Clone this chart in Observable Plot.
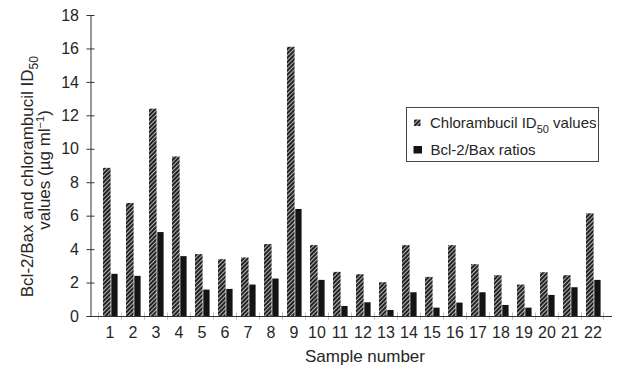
<!DOCTYPE html>
<html><head><meta charset="utf-8">
<script src="https://cdn.jsdelivr.net/npm/d3@7"></script>
<script src="https://cdn.jsdelivr.net/npm/@observablehq/plot@0.6"></script>
<style>body{margin:0;background:#fff}</style>
</head><body><div id="chart"></div>
<script>
const samples = [1,2,3,4,5,6,7,8,9,10,11,12,13,14,15,16,17,18,19,20,21,22];
const chlorambucilID50 = [8.86, 6.76, 12.4, 9.54, 3.7, 3.4, 3.5, 4.3, 16.1, 4.24, 2.64, 2.5, 2.02, 4.24, 2.34, 4.24, 3.1, 2.44, 1.88, 2.62, 2.44, 6.14];
const bclBaxRatios = [2.52, 2.4, 5.02, 3.58, 1.58, 1.62, 1.88, 2.24, 6.4, 2.16, 0.6, 0.82, 0.36, 1.42, 0.5, 0.8, 1.42, 0.66, 0.5, 1.26, 1.72, 2.16];
const yTicks = [0, 2, 4, 6, 8, 10, 12, 14, 16, 18];
const seriesNames = ["Chlorambucil ID", "Bcl-2/Bax ratios"];
const xTitle = "Sample number";

const rows = samples.map((s, i) => ({sample: s, id50: chlorambucilID50[i], ratio: bclBaxRatios[i]}));

const W = 619, H = 366, mL = 90.5, mR = 7, mT = 15, mB = 50;
const bw = (W - mL - mR) / samples.length;
const ink = "#262626";

const plot = Plot.plot({
  width: W, height: H,
  marginLeft: mL, marginRight: mR, marginTop: mT, marginBottom: mB,
  style: {fontFamily: "'Liberation Sans', Arial, sans-serif", fontSize: "16px", color: ink, background: "#fff", overflow: "visible"},
  x: {type: "band", domain: samples, padding: 0, label: null},
  y: {domain: [0, 18], label: null},
  marks: [
    Plot.barY(rows, {x: "sample", y: "id50", fill: "url(#hatch)", insetLeft: 5, insetRight: bw - 13.3}),
    Plot.barY(rows, {x: "sample", y: "ratio", fill: "#141414", insetLeft: 13.3, insetRight: bw - 20.3}),
    Plot.frame({anchor: "left", stroke: "#333"}),
    Plot.ruleY(yTicks, {y: d => d, insetLeft: -4, insetRight: W - mL - mR - 4, stroke: "#333"}),
    Plot.ruleY([0], {insetLeft: -4, stroke: "#333"}),
    Plot.barY(samples, {x: d => d, y1: -0.22, y2: 0.22, insetRight: bw - 1, fill: "#333"}),
    Plot.barY([samples[samples.length - 1]], {x: d => d, y1: -0.22, y2: 0.22, insetLeft: bw - 1, fill: "#333"}),
    Plot.axisY(yTicks, {tickSize: 0, tickPadding: 12, label: null}),
    Plot.axisX({tickSize: 0, tickPadding: 10, label: null})
  ]
});
document.getElementById("chart").appendChild(plot);

const svg = d3.select(plot);
const defs = svg.insert("defs", ":first-child");
const pat = defs.append("pattern").attr("id", "hatch").attr("patternUnits", "userSpaceOnUse")
  .attr("width", 3).attr("height", 3).attr("patternTransform", "rotate(45)");
pat.append("rect").attr("width", 3).attr("height", 3).attr("fill", "#b4b4b4");
pat.append("line").attr("x1", 1).attr("y1", 0).attr("x2", 1).attr("y2", 3).attr("stroke", "#222").attr("stroke-width", 2);

// y-axis title (two lines)
const t1 = svg.append("text").attr("transform", "translate(33,176.7) rotate(-90)")
  .attr("text-anchor", "middle").attr("fill", ink).style("font-size", "17px");
t1.append("tspan").text("Bcl-2/Bax and chlorambucil ID");
t1.append("tspan").attr("dy", 5).style("font-size", "12px").text("50");
const t2 = svg.append("text").attr("transform", "translate(50,170) rotate(-90)")
  .attr("text-anchor", "middle").attr("fill", ink).style("font-size", "17px");
t2.append("tspan").text("values (µg ml");
t2.append("tspan").attr("dy", -6).style("font-size", "11px").text("−1");
t2.append("tspan").attr("dy", 6).text(")");

// x-axis title
svg.append("text").attr("x", 365).attr("y", 361.5).attr("text-anchor", "middle")
  .attr("fill", ink).style("font-size", "17px").text(xTitle);

// legend
const lg = svg.append("g").attr("text-anchor", "start");
lg.append("rect").attr("x", 406.5).attr("y", 107.5).attr("width", 192).attr("height", 54)
  .attr("fill", "#fff").attr("stroke", "#444");
lg.append("rect").attr("x", 414).attr("y", 119.5).attr("width", 6.5).attr("height", 6.5).attr("fill", "url(#hatch)");
lg.append("rect").attr("x", 413.5).attr("y", 146).attr("width", 8.5).attr("height", 7.5).attr("fill", "#141414");
const l1 = lg.append("text").attr("x", 430).attr("y", 128.3).attr("text-anchor", "start").attr("fill", ink).style("font-size", "15px");
l1.append("tspan").text(seriesNames[0]);
l1.append("tspan").attr("dy", 5).style("font-size", "11px").text("50");
l1.append("tspan").attr("dy", -5).text(" values");
lg.append("text").attr("x", 430.5).attr("y", 154.7).attr("text-anchor", "start").attr("fill", ink).style("font-size", "15px").text(seriesNames[1]);
</script>
</body></html>
